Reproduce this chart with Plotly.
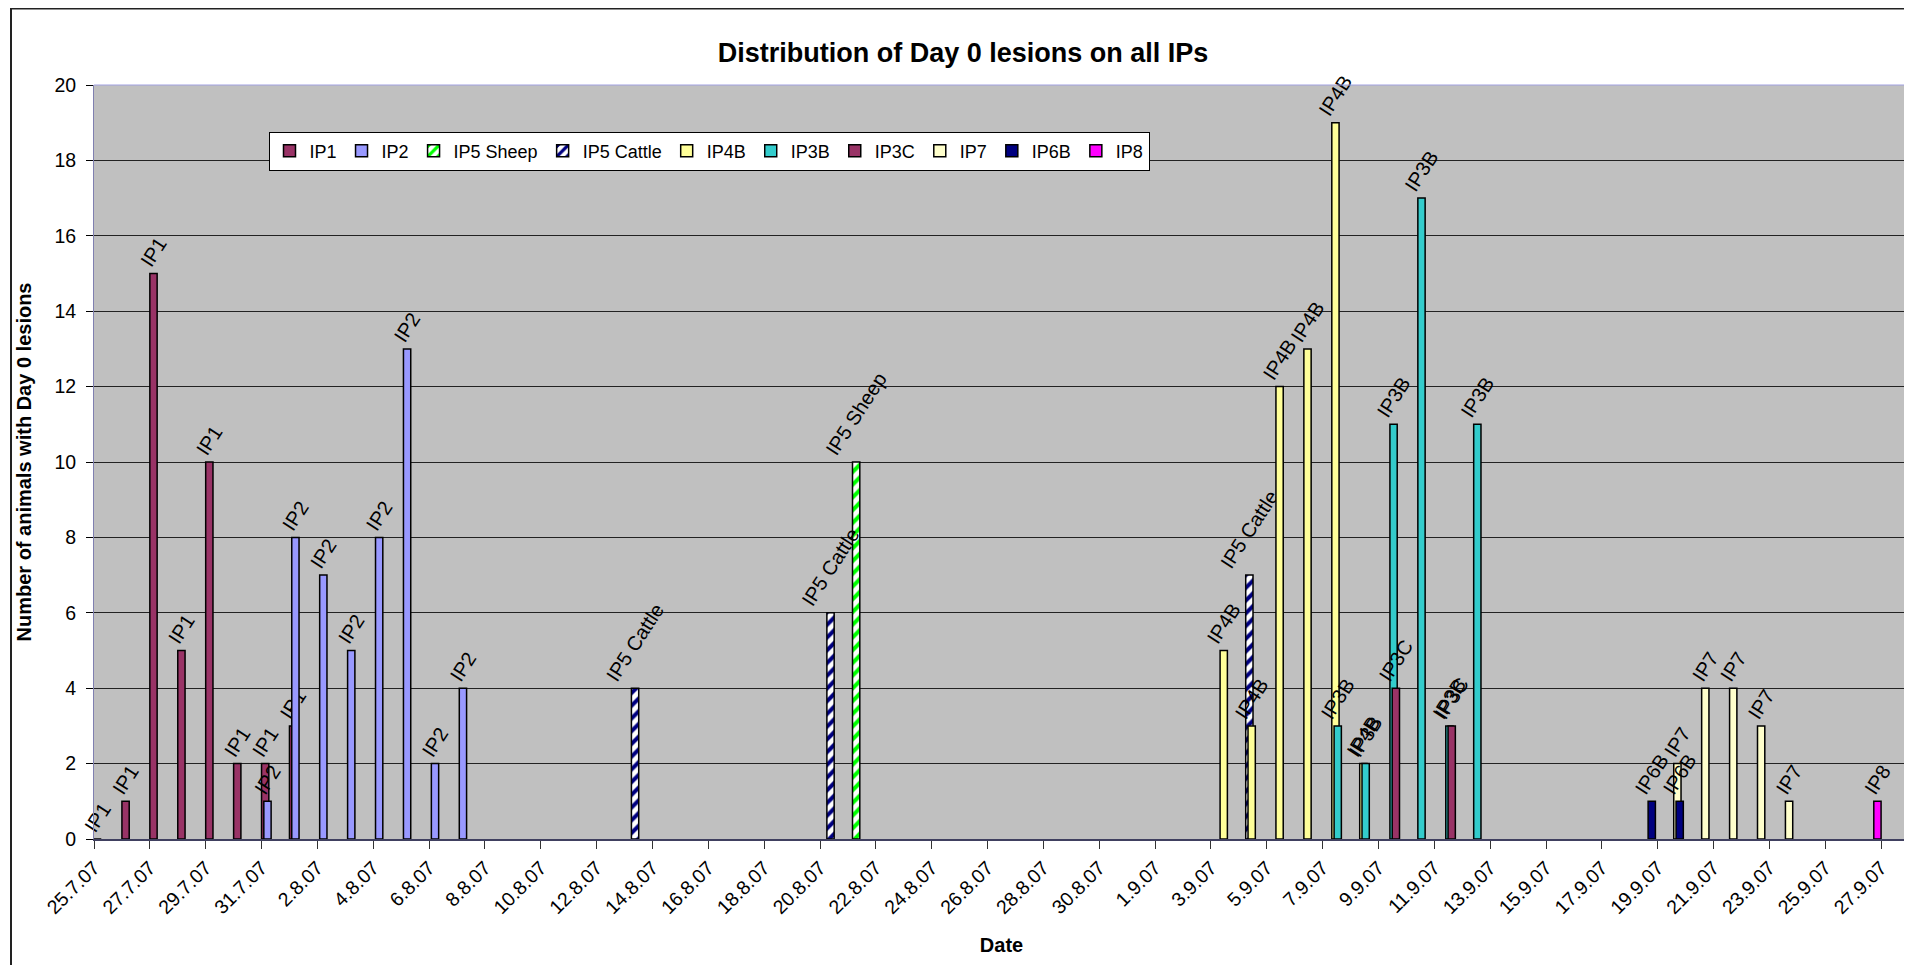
import plotly.graph_objects as go
from datetime import datetime

# ---------------- data ----------------
series_names = ["IP1", "IP2", "IP5 Sheep", "IP5 Cattle", "IP4B", "IP3B", "IP3C", "IP7", "IP6B", "IP8"]

ip1_dates = ["25.7.07", "26.7.07", "27.7.07", "28.7.07", "29.7.07", "30.7.07", "31.7.07", "1.8.07"]
ip1_values = [0, 1, 15, 5, 10, 2, 2, 3]

ip2_dates = ["31.7.07", "1.8.07", "2.8.07", "3.8.07", "4.8.07", "5.8.07", "6.8.07", "7.8.07"]
ip2_values = [1, 8, 7, 5, 8, 13, 2, 4]

ip5_sheep_dates = ["21.8.07"]
ip5_sheep_values = [10]

ip5_cattle_dates = ["13.8.07", "20.8.07", "4.9.07"]
ip5_cattle_values = [4, 6, 7]

ip4b_dates = ["3.9.07", "4.9.07", "5.9.07", "6.9.07", "7.9.07", "8.9.07"]
ip4b_values = [5, 3, 12, 13, 19, 2]

ip3b_dates = ["7.9.07", "8.9.07", "9.9.07", "10.9.07", "11.9.07", "12.9.07"]
ip3b_values = [3, 2, 11, 17, 3, 11]

ip3c_dates = ["9.9.07", "11.9.07"]
ip3c_values = [4, 3]

ip7_dates = ["19.9.07", "20.9.07", "21.9.07", "22.9.07", "23.9.07"]
ip7_values = [2, 4, 4, 3, 1]

ip6b_dates = ["18.9.07", "19.9.07"]
ip6b_values = [1, 1]

ip8_dates = ["26.9.07"]
ip8_values = [1]

axis_start = "25.7.07"
axis_end = "28.9.07"

series_dates = [ip1_dates, ip2_dates, ip5_sheep_dates, ip5_cattle_dates, ip4b_dates,
                ip3b_dates, ip3c_dates, ip7_dates, ip6b_dates, ip8_dates]
series_values = [ip1_values, ip2_values, ip5_sheep_values, ip5_cattle_values, ip4b_values,
                 ip3b_values, ip3c_values, ip7_values, ip6b_values, ip8_values]

# ---------------- style ----------------
colors = ["#993366", "#9999FF", "#FFFFFF", "#FFFFFF", "#FFFF99",
          "#33CCCC", "#993366", "#FFFFCC", "#000080", "#FF00FF"]
patterns = {2: "#00FF00", 3: "#000080"}

FONT = "Liberation Sans, Arial, sans-serif"
DAY_MS = 86400000
step = 0.0821              # shift between series inside a day slot (days)
bar_w = 1 - 9 * step       # bar width (days)


def iso(d):
    return datetime.strptime(d, "%d.%m.%y").strftime("%Y-%m-%d")


fig = go.Figure()
for k, (name, ds, vs) in enumerate(zip(series_names, series_dates, series_values)):
    marker = dict(color=colors[k], line=dict(color="black", width=1.5))
    if k in patterns:
        marker["pattern"] = dict(shape="/", fgcolor=patterns[k], bgcolor="white",
                                 size=9, solidity=0.45, fillmode="replace")
    fig.add_trace(go.Bar(
        name=name,
        x=[iso(d) for d in ds],
        y=vs,
        offset=k * step * DAY_MS,
        width=bar_w * DAY_MS,
        marker=marker,
        text=[name] * len(vs),
        textposition="outside",
        textangle=-57,
        textfont=dict(family=FONT, size=20, color="black"),
        constraintext="none",
        cliponaxis=False,
        hoverinfo="x+y+name",
    ))

# the page adds an 8px body margin, so the figure is 8px smaller than the window
W, H = 1904, 957
L, R, T, B = 86, 3, 77, 126
pw, ph = W - L - R, H - T - B

fig.update_layout(
    width=W, height=H,
    margin=dict(l=L, r=R, t=T, b=B),
    paper_bgcolor="white",
    plot_bgcolor="#C0C0C0",
    barmode="overlay",
    font=dict(family=FONT, size=18, color="black"),
    title=dict(text="Distribution of Day 0 lesions on all IPs",
               font=dict(family=FONT, size=27, color="black", weight="bold"),
               x=955 / W, xanchor="center", xref="container",
               y=1 - 45 / H, yanchor="middle", yref="container"),
    showlegend=True,
    legend=dict(orientation="h", x=(701 - L) / pw, xanchor="center",
                y=1 - (143 - T) / ph, yanchor="middle",
                bgcolor="white", bordercolor="black", borderwidth=1,
                font=dict(family=FONT, size=18, color="black"),
                traceorder="normal"),
    xaxis=dict(type="date", range=[iso(axis_start), iso(axis_end)],
               tick0=iso(axis_start), dtick=2 * DAY_MS, tickformat="%-d.%-m.%y",
               tickangle=-45, ticks="outside", ticklen=8, tickcolor="#333333",
               showgrid=False, zeroline=False, showline=True,
               linecolor="#404060", linewidth=1.5,
               tickfont=dict(family=FONT, size=19.5, color="black"),
               title=dict(text="Date", standoff=21,
                          font=dict(family=FONT, size=20, color="black", weight="bold")),
               automargin=False, fixedrange=True),
    yaxis=dict(range=[0, 20], dtick=2, tick0=0,
               ticks="outside", ticklen=7, tickcolor="black", ticklabelstandoff=6,
               showgrid=True, gridcolor="#222222", gridwidth=1.2,
               zeroline=False, showline=True, linecolor="#8080B0", linewidth=1,
               tickfont=dict(family=FONT, size=19.5, color="black"),
               title=dict(text="Number of animals with Day 0 lesions", standoff=17,
                          font=dict(family=FONT, size=20, color="black", weight="bold")),
               automargin=False, fixedrange=True),
    shapes=[
        # chart frame (only left & top visible in the picture)
        dict(type="rect", xref="paper", yref="paper",
             x0=(3 - L) / pw, x1=1.05, y0=-0.3, y1=1 + (T - 0.5) / ph,
             line=dict(color="#222222", width=2), fillcolor="rgba(0,0,0,0)", layer="below"),
        # plot-area top border
        dict(type="line", xref="paper", yref="paper", x0=0, x1=1, y0=1, y1=1,
             line=dict(color="#A0A0E0", width=1)),
    ],
)

fig.write_html("out.html")
